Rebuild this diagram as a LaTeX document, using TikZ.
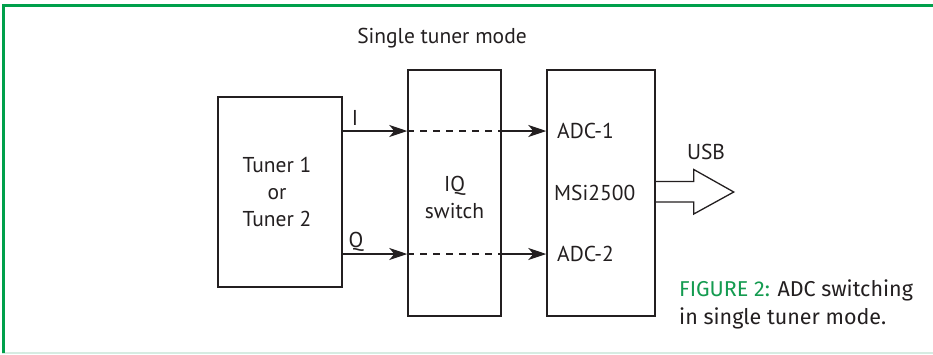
\documentclass[tikz,border=0pt]{standalone}
\usepackage{fontspec}
\setmainfont{PT Sans}
\newfontfamily\capfont{Fira Sans}
\usetikzlibrary{arrows.meta,calc}
\definecolor{framegreen}{RGB}{0,160,75}
\definecolor{capgreen}{RGB}{20,155,80}
\definecolor{ink}{RGB}{35,31,32}
\definecolor{bottomline}{RGB}{214,236,226}
\begin{document}
\begin{tikzpicture}[x=1pt,y=-1pt,
  blockbox/.style={draw=ink,line width=1.5pt,inner sep=0pt,minimum width=#1},
  lbl/.style={text=ink,font=\fontsize{21.5}{27}\selectfont,inner sep=0pt},
  arr/.style={draw=ink,line width=1.4pt,-{Stealth[length=18pt,width=12pt,inset=5pt]}},
  dsh/.style={draw=ink,line width=1.4pt,dash pattern=on 7pt off 6pt}]
\useasboundingbox (0,0) rectangle (933,354);
% frame
\draw[bottomline,line width=1.5pt] (2,353) -- (933,353);
\draw[framegreen,line width=2.8pt] (3.2,353) -- (3.2,5.6) -- (933,5.6);
% blocks
\node[blockbox=124pt,minimum height=190pt] (tuner) at (280,192) {};
\node[blockbox=93pt,minimum height=246pt] (iq) at (454.5,193) {};
\node[blockbox=108pt,minimum height=246pt] (msi) at (601,193) {};
% texts
\node[lbl] (title) at (442,38) {Single tuner mode};
\node[lbl,align=center] (ttxt) at (277,192) {Tuner 1\\or\\Tuner 2};
\node[lbl,align=center] (iqtxt) at (454.5,197) {IQ\\switch};
\node[lbl,anchor=west] (adc1) at (557,131) {ADC-1};
\node[lbl,anchor=west] (msitxt) at (554,193) {MSi2500};
\node[lbl,anchor=west] (adc2) at (557,254) {ADC-2};
\node[lbl] (ilbl) at (355,118) {I};
\node[lbl] (qlbl) at (356,241.5) {Q};
\node[lbl] (usb) at (706,152) {USB};
% signal lines
\coordinate (yi) at (0,131);
\coordinate (yq) at (0,254);
\draw[arr] (tuner.east |- yi) -- (iq.west |- yi);
\draw[dsh] (iq.west |- yi) -- (iq.east |- yi);
\draw[arr] (iq.east |- yi) -- (msi.west |- yi);
\draw[arr] (tuner.east |- yq) -- (iq.west |- yq);
\draw[dsh] (iq.west |- yq) -- (iq.east |- yq);
\draw[arr] (iq.east |- yq) -- (msi.west |- yq);
% USB arrow
\draw[ink,line width=1.3pt,line join=miter]
  ($(msi.east)+(0,-11.5)$) -- ++(38,0) -- ++(0,-12) -- ($(msi.east)+(78,-1)$)
  -- ($(msi.east)+(38,21)$) -- ++(0,-12) -- ($(msi.east)+(0,9)$);
% caption
\node[anchor=base west,inner sep=0pt,font=\capfont\fontsize{21.5}{28}\selectfont,text=ink] (cap1) at (679,296) {\textcolor{capgreen}{FIGURE 2:} ADC switching};
\node[anchor=base west,inner sep=0pt,font=\capfont\fontsize{21.5}{28}\selectfont,text=ink] (cap2) at (679,324) {in single tuner mode.};
\end{tikzpicture}
\end{document}
